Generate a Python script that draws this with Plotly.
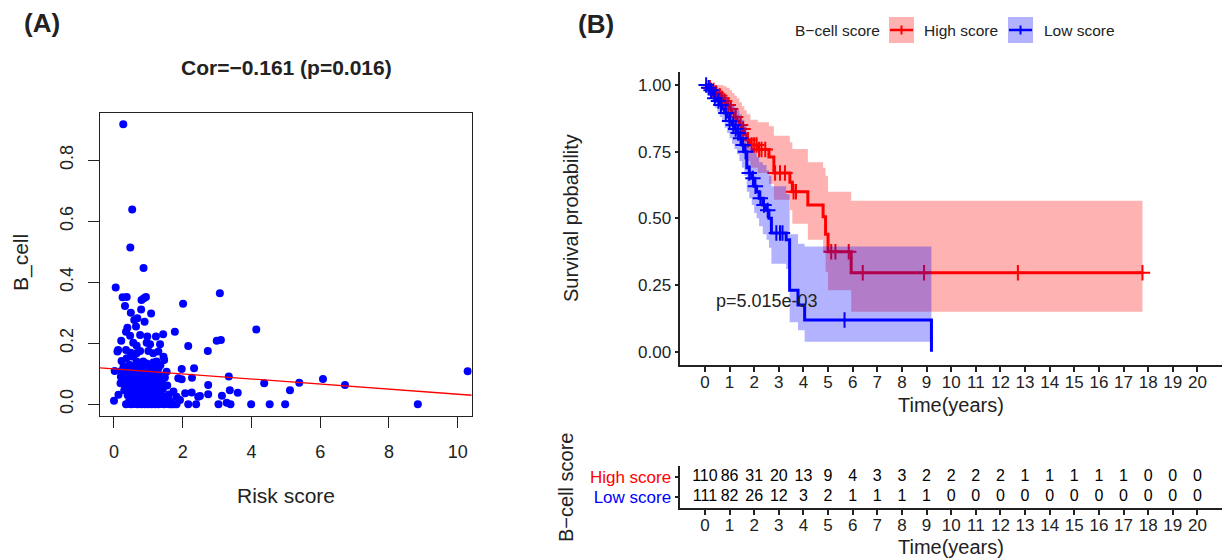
import numpy as np
import plotly.graph_objects as go

W, H = 1226, 560
FONT = "Liberation Sans, Arial, Helvetica, sans-serif"

# ---------------- Panel A: B_cell vs risk score ----------------
risk_score = [
    0.27, 0.53, 0.475, 0.86, 0.05, 3.08, 2.01, 0.25, 0.37, 0.32, 0.49, 0.79, 0.87, 0.93, 0.80,
    1.08, 0.89, 0.59, 0.68, 4.14, 1.77, 1.43, 0.39, 0.35, 0.47, 0.64, 0.76, 0.97, 1.22, 0.21,
    0.56, 0.66, 0.95, 1.05, 1.34, 2.16, 2.99, 3.11, 2.73, 0.12, 0.10, 0.35, 0.49, 0.66, 0.76,
    1.00, 1.14, 1.29, 1.44, 1.46, 0.22, 0.37, 0.56, 0.66, 0.85, 0.95, 1.14, 1.24, 1.97, 2.33,
    0.02, 0.21, 0.37, 0.51, 0.71, 0.85, 1.05, 1.29, 1.53, 3.34, 1.87, 1.97, 2.27, 4.37, 6.08,
    6.72, 5.39, 5.12, 10.29, 2.74, 3.37, 3.60, 3.14, 2.74, 2.45, 2.26, 2.07, 1.73, 1.82, 1.92,
    8.84, 4.98, 4.53, 3.99, 3.04, 3.28, 3.39, 2.16, 2.39, 1.68, 1.82, 0.00, 0.13, 0.19, 2.50,
    # dense cluster near the origin
    0.35, 0.42, 0.50, 0.60, 0.68, 0.75, 0.80, 0.85, 0.90, 0.95, 1.00, 1.05, 1.10, 1.15, 1.20,
    1.25, 1.30, 1.35, 1.45, 1.55, 1.62, 1.75,
    0.45, 0.55, 0.62, 0.72, 0.78, 0.88, 0.93, 0.98, 1.03, 1.08, 1.12, 1.18, 1.28, 1.38, 1.50, 1.65,
    0.40, 0.52, 0.66, 0.74, 0.82, 0.90, 0.97, 1.06, 1.14, 1.22, 1.33, 1.45, 1.60,
    0.30, 0.44, 0.58, 0.70, 0.79, 0.87, 0.96, 1.04, 1.10, 1.19, 1.30, 1.42,
    0.33, 0.48, 0.63, 0.76, 0.84, 0.92, 1.00, 1.08, 1.17, 1.27, 1.38, 1.55,
    0.25, 0.38, 0.54, 0.69, 0.80, 0.90, 0.99, 1.07, 1.15, 1.25, 1.40,
    0.20, 0.42, 0.60, 0.72, 0.83, 0.94, 1.02, 1.12, 1.22, 1.35, 1.48,
    0.30, 0.50, 0.65, 0.78, 0.88, 0.97, 1.06, 1.18, 1.30,
    0.58, 0.90, 1.10, 0.45, 0.70, 1.20, 0.28, 1.35,
]
b_cell = [
    0.918, 0.639, 0.514, 0.447, 0.383, 0.364, 0.330, 0.351, 0.352, 0.322, 0.300, 0.311, 0.348, 0.352, 0.342,
    0.298, 0.271, 0.276, 0.282, 0.245, 0.238, 0.230, 0.251, 0.238, 0.225, 0.255, 0.227, 0.222, 0.222, 0.208,
    0.202, 0.192, 0.202, 0.197, 0.197, 0.191, 0.208, 0.211, 0.175, 0.178, 0.173, 0.178, 0.169, 0.167, 0.175,
    0.175, 0.167, 0.173, 0.156, 0.145, 0.142, 0.151, 0.156, 0.140, 0.140, 0.134, 0.137, 0.140, 0.116, 0.118,
    0.109, 0.109, 0.107, 0.118, 0.123, 0.113, 0.118, 0.118, 0.107, 0.091, 0.085, 0.082, 0.087, 0.069, 0.083,
    0.063, 0.071, 0.046, 0.108, 0.063, 0.046, 0.038, 0.028, 0.033, 0.025, 0.039, 0.036, 0.042, 0.025, 0.014,
    0.000, 0.000, 0.000, 0.000, 0.000, 0.005, 0.000, 0.000, 0.000, 0.000, 0.000, 0.012, 0.031, 0.069, 0.027,
    0.000, 0.002, 0.000, 0.001, 0.000, 0.002, 0.000, 0.001, 0.000, 0.002, 0.000, 0.001, 0.000, 0.002, 0.000,
    0.001, 0.000, 0.002, 0.000, 0.001, 0.000, 0.000,
    0.015, 0.012, 0.018, 0.010, 0.020, 0.014, 0.008, 0.017, 0.011, 0.020, 0.013, 0.009, 0.016, 0.012, 0.018, 0.010,
    0.030, 0.034, 0.028, 0.032, 0.036, 0.027, 0.031, 0.035, 0.029, 0.033, 0.030, 0.026, 0.032,
    0.046, 0.044, 0.048, 0.043, 0.047, 0.050, 0.045, 0.049, 0.042, 0.047, 0.044, 0.050,
    0.060, 0.063, 0.058, 0.062, 0.065, 0.059, 0.061, 0.066, 0.060, 0.063, 0.057, 0.062,
    0.075, 0.073, 0.078, 0.074, 0.079, 0.072, 0.077, 0.074, 0.080, 0.073, 0.076,
    0.090, 0.088, 0.092, 0.089, 0.094, 0.090, 0.087, 0.093, 0.089, 0.091, 0.088,
    0.100, 0.098, 0.103, 0.099, 0.101, 0.097, 0.104, 0.100, 0.098,
    0.125, 0.128, 0.130, 0.130, 0.135, 0.120, 0.125, 0.128,
]
fit_intercept = 0.116
fit_slope = -0.0083
cor_label = "Cor=\u22120.161 (p=0.016)"

# ---------------- Panel B: Kaplan-Meier by B-cell score ----------------
high_time = [0, 0.12, 0.25, 0.38, 0.5, 0.62, 0.75, 0.88, 1.0, 1.1, 1.2, 1.3, 1.4, 1.5,
             1.6, 1.7, 1.85, 2.15, 2.6, 2.8, 3.45, 3.55, 4.18, 4.8, 4.9, 5.0, 5.94]
high_surv = [1.0, 0.99, 0.98, 0.97, 0.96, 0.95, 0.94, 0.925, 0.91, 0.895, 0.88, 0.865, 0.85, 0.835,
             0.815, 0.795, 0.775, 0.758, 0.73, 0.67, 0.635, 0.60, 0.55, 0.506, 0.44, 0.375, 0.296]
high_upper = [1.0, 1.0, 1.0, 1.0, 1.0, 1.0, 0.995, 0.99, 0.98, 0.97, 0.96, 0.95, 0.935, 0.92,
              0.905, 0.89, 0.87, 0.86, 0.845, 0.81, 0.785, 0.76, 0.71, 0.69, 0.66, 0.60, 0.566]
high_lower = [1.0, 0.97, 0.955, 0.94, 0.925, 0.91, 0.895, 0.875, 0.855, 0.835, 0.815, 0.80, 0.78, 0.765,
              0.74, 0.715, 0.69, 0.67, 0.63, 0.57, 0.53, 0.48, 0.42, 0.37, 0.30, 0.23, 0.15]
high_end = 17.77
high_censor = [0.2, 0.35, 0.45, 0.6, 0.7, 0.8, 0.95, 1.05, 1.25, 1.45, 1.55, 1.75, 1.9, 2.0,
               2.1, 2.2, 2.3, 2.45, 2.85, 3.05, 3.25, 3.6, 3.7, 5.13, 5.3, 5.84, 6.41, 8.9,
               12.71, 17.77]

low_time = [0, 0.1, 0.2, 0.3, 0.4, 0.5, 0.6, 0.7, 0.8, 0.9, 1.0, 1.1, 1.2, 1.3, 1.4, 1.5,
            1.6, 1.7, 1.8, 1.9, 2.0, 2.1, 2.2, 2.35, 2.5, 2.6, 2.7, 3.3, 3.44, 3.78, 4.05, 9.2]
low_surv = [1.0, 0.99, 0.98, 0.965, 0.95, 0.94, 0.925, 0.91, 0.895, 0.88, 0.865, 0.85, 0.835, 0.82,
            0.80, 0.775, 0.75, 0.69, 0.67, 0.65, 0.62, 0.60, 0.575, 0.55, 0.53, 0.50, 0.445, 0.42,
            0.23, 0.175, 0.119, 0.0]
low_upper = [1.0, 1.0, 1.0, 0.995, 0.99, 0.985, 0.975, 0.965, 0.955, 0.945, 0.935, 0.925, 0.915, 0.905,
             0.89, 0.87, 0.85, 0.79, 0.775, 0.765, 0.745, 0.73, 0.71, 0.70, 0.68, 0.66, 0.62, 0.59,
             0.44, 0.405, 0.394, 0.394]
low_lower = [1.0, 0.97, 0.955, 0.935, 0.915, 0.90, 0.88, 0.86, 0.84, 0.82, 0.80, 0.78, 0.76, 0.74,
             0.715, 0.69, 0.66, 0.60, 0.575, 0.55, 0.52, 0.50, 0.47, 0.44, 0.42, 0.39, 0.33, 0.31,
             0.11, 0.08, 0.0375, 0.0375]
low_end = 9.2
low_censor = [0.05, 0.15, 0.25, 0.4, 0.55, 0.65, 0.85, 1.0, 1.15, 1.25, 1.35, 1.45, 1.55, 1.65,
              1.8, 1.95, 2.05, 2.25, 2.4, 2.55, 2.9, 3.05, 3.15, 5.67]

p_label = "p=5.015e-03"

risk_times = list(range(21))
high_at_risk = [110, 86, 31, 20, 13, 9, 4, 3, 3, 2, 2, 2, 2, 1, 1, 1, 1, 1, 0, 0, 0]
low_at_risk = [111, 82, 26, 12, 3, 2, 1, 1, 1, 1, 0, 0, 0, 0, 0, 0, 0, 0, 0, 0, 0]

RED = "#FF0000"
BLUE = "#0000FF"
RED_FILL = "rgba(255,0,0,0.3)"
BLUE_FILL = "rgba(0,0,255,0.3)"


def px_x(p):
    return p / W


def px_y(p):
    return 1 - p / H


def steps(t, v, t_end):
    xs, ys = [], []
    for i in range(len(t)):
        nxt = t[i + 1] if i + 1 < len(t) else t_end
        xs += [t[i], nxt]
        ys += [v[i], v[i]]
    return xs, ys


def value_at(t, v, when):
    idx = np.searchsorted(np.asarray(t), np.asarray(when), side="right") - 1
    return [v[i] for i in idx]


fig = go.Figure()

# Panel A
xr_a = [-0.407, 10.407]
fig.add_trace(go.Scatter(
    x=risk_score, y=b_cell, mode="markers", xaxis="x", yaxis="y",
    marker=dict(color=BLUE, size=8, line=dict(width=0)), showlegend=False,
))
fig.add_trace(go.Scatter(
    x=xr_a, y=[fit_intercept + fit_slope * v for v in xr_a], mode="lines",
    xaxis="x", yaxis="y", line=dict(color=RED, width=1.3), showlegend=False,
))

# Panel B: ribbons, curves and censor marks
for t, s, up, lo, end, cens, col, fill in [
    (high_time, high_surv, high_upper, high_lower, high_end, high_censor, RED, RED_FILL),
    (low_time, low_surv, low_upper, low_lower, low_end, low_censor, BLUE, BLUE_FILL),
]:
    ux, uy = steps(t, up, end)
    lx, ly = steps(t, lo, end)
    fig.add_trace(go.Scatter(
        x=ux + lx[::-1], y=uy + ly[::-1], mode="lines", fill="toself",
        fillcolor=fill, line=dict(width=0), xaxis="x2", yaxis="y2", showlegend=False,
    ))
    sx, sy = steps(t, s, end)
    fig.add_trace(go.Scatter(
        x=sx, y=sy, mode="lines", line=dict(color=col, width=3),
        xaxis="x2", yaxis="y2", showlegend=False,
    ))
    fig.add_trace(go.Scatter(
        x=cens, y=value_at(t, s, cens), mode="markers", xaxis="x2", yaxis="y2",
        marker=dict(symbol="cross-thin", size=11, line=dict(color=col, width=2)),
        showlegend=False,
    ))

# number-at-risk table
fig.add_trace(go.Scatter(
    x=risk_times, y=[2] * len(risk_times), mode="text",
    text=[str(n) for n in high_at_risk], textfont=dict(size=16, color="black", family=FONT),
    xaxis="x3", yaxis="y3", showlegend=False,
))
fig.add_trace(go.Scatter(
    x=risk_times, y=[1] * len(risk_times), mode="text",
    text=[str(n) for n in low_at_risk], textfont=dict(size=16, color="black", family=FONT),
    xaxis="x3", yaxis="y3", showlegend=False,
))

axis_common = dict(showgrid=False, zeroline=False, showline=True, ticks="outside",
                   tickcolor="#222", linecolor="#222", tickfont=dict(family=FONT, color="#222"))

km_x_dom = [px_x(680.3), px_x(1222)]

fig.update_layout(
    width=W, height=H, autosize=False,
    margin=dict(l=0, r=0, t=0, b=0),
    paper_bgcolor="white", plot_bgcolor="rgba(0,0,0,0)",
    font=dict(family=FONT, color="#222"),
    showlegend=False,
    xaxis=dict(axis_common, domain=[px_x(100), px_x(471.7)], range=xr_a, anchor="y",
               tickvals=[0, 2, 4, 6, 8, 10], ticklen=11, mirror=True, linewidth=1,
               tickfont=dict(family=FONT, size=18, color="#222"), ticklabelstandoff=8),
    yaxis=dict(axis_common, domain=[px_y(416), px_y(112.7)], range=[-0.0384, 0.956], anchor="x",
               tickvals=[0, 0.2, 0.4, 0.6, 0.8], ticktext=["0.0", "0.2", "0.4", "0.6", "0.8"],
               tickangle=-90, ticklen=11, mirror=True, linewidth=1,
               tickfont=dict(family=FONT, size=18, color="#222"), ticklabelstandoff=8),
    xaxis2=dict(axis_common, domain=km_x_dom, range=[-1, 21], anchor="y2",
                tickvals=list(range(21)), ticklen=5, linewidth=1.5, tickwidth=1.5,
                tickfont=dict(family=FONT, size=17, color="#222"), ticklabelstandoff=-4),
    yaxis2=dict(axis_common, domain=[px_y(365), px_y(71.7)], range=[-0.05, 1.05], anchor="x2",
                tickvals=[0, 0.25, 0.5, 0.75, 1.0], ticktext=["0.00", "0.25", "0.50", "0.75", "1.00"],
                ticklen=4, linewidth=1.5, tickwidth=1.5,
                tickfont=dict(family=FONT, size=17, color="#222")),
    xaxis3=dict(axis_common, domain=km_x_dom, range=[-1, 21], anchor="y3",
                tickvals=list(range(21)), ticklen=5, linewidth=1.5, tickwidth=1.5,
                tickfont=dict(family=FONT, size=17, color="#222"), ticklabelstandoff=-4),
    yaxis3=dict(axis_common, domain=[px_y(508), px_y(466)], range=[0.45, 2.55], anchor="x3",
                tickvals=[1, 2],
                ticktext=["<span style='color:#0000FF'>Low score</span>",
                          "<span style='color:#FF0000'>High score</span>"],
                ticklen=4, linewidth=1.5, tickwidth=1.5,
                tickfont=dict(family=FONT, size=17)),
)

ann = []


def add_text(text, x, y, size, angle=0, xanchor="center", bold=False, color="#222"):
    ann.append(dict(
        text=f"<b>{text}</b>" if bold else text, x=px_x(x), y=px_y(y),
        xref="paper", yref="paper", xanchor=xanchor, yanchor="middle",
        showarrow=False, textangle=angle, font=dict(family=FONT, size=size, color=color),
    ))


add_text("(A)", 22, 23, 26, xanchor="left", bold=True)
add_text("(B)", 576, 24, 26, xanchor="left", bold=True)
add_text(cor_label, 286, 67, 21, bold=True)
add_text("B_cell", 21, 263, 21, angle=-90)
add_text("Risk score", 286, 495, 21)
add_text("Survival probability", 571, 218, 20, angle=-90)
add_text("Time(years)", 951, 405, 20)
add_text("Time(years)", 951, 547, 20)
add_text("B\u2212cell score", 566, 487, 20, angle=-90)

# legend
add_text("B\u2212cell score", 793, 30, 15.5, xanchor="left")
add_text("High score", 922, 30, 15.5, xanchor="left")
add_text("Low score", 1042, 30, 15.5, xanchor="left")

ann.append(dict(
    text=p_label, x=0.38, y=0.19, xref="x2", yref="y2", xanchor="left", yanchor="middle",
    showarrow=False, font=dict(family=FONT, size=18, color="#222"),
))

shapes = []
for x0, fill, col in [(889, RED_FILL, RED), (1008, BLUE_FILL, BLUE)]:
    shapes.append(dict(type="rect", xref="paper", yref="paper",
                       x0=px_x(x0), x1=px_x(x0 + 25), y0=px_y(43), y1=px_y(17),
                       fillcolor=fill, line=dict(width=0)))
    shapes.append(dict(type="line", xref="paper", yref="paper",
                       x0=px_x(x0 + 1), x1=px_x(x0 + 24), y0=px_y(30), y1=px_y(30),
                       line=dict(color=col, width=2.5)))
    shapes.append(dict(type="line", xref="paper", yref="paper",
                       x0=px_x(x0 + 12.5), x1=px_x(x0 + 12.5), y0=px_y(25.5), y1=px_y(34.5),
                       line=dict(color=col, width=2)))

fig.update_layout(annotations=ann, shapes=shapes)

fig.write_html("out.html")
